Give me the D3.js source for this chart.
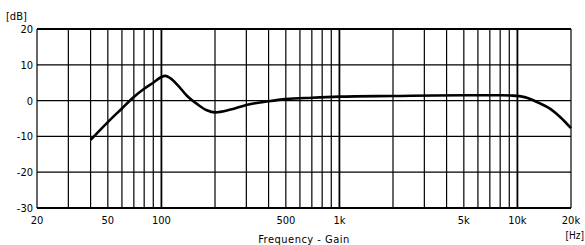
<!DOCTYPE html>
<html>
  <head>
    <meta charset="utf-8">
    <script src="https://d3js.org/d3.v7.min.js"></script>
    <style>
      body { margin: 0; background: #fff; }
      text { font-family: "DejaVu Sans Condensed", "DejaVu Sans", sans-serif; fill: #000; }
    </style>
  </head>
  <body>
    <svg id="chart" width="585" height="245"></svg>

    <script>

        // frequency response (Hz, dB)
        let freqs = [40, 50, 60, 70, 80, 90, 100, 105, 112, 123, 140, 160, 180, 200, 245, 300, 400, 500, 700, 1000, 2000, 5000, 8000, 9400, 11400, 13000, 15300, 17500, 20000]
        let gains = [-11, -6, -2.2, 1, 3.3, 5, 6.6, 6.9, 6.3, 4.4, 1.2, -1.1, -2.7, -3.3, -2.5, -1.2, -0.2, 0.4, 0.8, 1.1, 1.3, 1.5, 1.5, 1.4, 0.75, -0.5, -2.3, -4.7, -7.7]

        let xTicks = [20, 50, 100, 500, 1000, 5000, 10000, 20000]
        let xTickLabels = ['20', '50', '100', '500', '1k', '5k', '10k', '20k']
        let yTicks = [20, 10, 0, -10, -20, -30]

        let svg = d3.select('#chart'),
            mLeft = 37, mRight = 571, mTop = 29, mBottom = 208

        let x = d3.scaleLog().domain([20, 20000]).range([mLeft, mRight]),
            y = d3.scaleLinear().domain([-30, 20]).range([mBottom, mTop])

        // log grid: every 1..9 of each decade
        let gridX = []
        ;[10, 100, 1000, 10000].forEach(dec => {
            for (let m = 1; m < 10; m++) {
                let f = dec * m
                if (f >= 20 && f <= 20000) gridX.push(f)
            }
        })

        let grid = svg.append('g')
        grid.selectAll('.vx').data(gridX).enter().append('line')
            .attr('x1', d => x(d)).attr('x2', d => x(d))
            .attr('y1', mTop).attr('y2', mBottom)
            .attr('stroke', '#000')
            .attr('stroke-width', d => [100, 1000, 10000].includes(d) ? 1.8 : 1.2)

        grid.selectAll('.hy').data(yTicks).enter().append('line')
            .attr('x1', mLeft).attr('x2', mRight)
            .attr('y1', d => y(d)).attr('y2', d => y(d))
            .attr('stroke', '#000')
            .attr('stroke-width', d => (d === 20 || d === -30) ? 1.8 : 1.3)

        // y labels
        svg.append('g').selectAll('text').data(yTicks).enter().append('text')
            .attr('x', 33).attr('y', d => y(d) + 4)
            .attr('text-anchor', 'end')
            .attr('font-size', 11)
            .text(d => d)

        // x labels
        svg.append('g').selectAll('text').data(xTicks).enter().append('text')
            .attr('x', d => x(d)).attr('y', 224)
            .attr('text-anchor', 'middle')
            .attr('font-size', 11)
            .text((d, i) => xTickLabels[i])

        svg.append('text').attr('x', 6).attr('y', 20).attr('font-size', 11).text('[dB]')
        svg.append('text').attr('x', 584).attr('y', 239).attr('text-anchor', 'end').attr('font-size', 10).text('[Hz]')
        svg.append('text').attr('x', 304).attr('y', 243).attr('text-anchor', 'middle')
            .attr('font-size', 11).attr('letter-spacing', 0.5).text('Frequency - Gain')

        // response curve
        let line = d3.line()
            .x((d, i) => x(freqs[i]))
            .y(d => y(d))
            .curve(d3.curveMonotoneX)

        svg.append('path')
            .datum(gains)
            .attr('d', line)
            .attr('fill', 'none')
            .attr('stroke', '#000')
            .attr('stroke-width', 2.6)
            .attr('stroke-linejoin', 'round')

    </script>
  </body>
</html>
